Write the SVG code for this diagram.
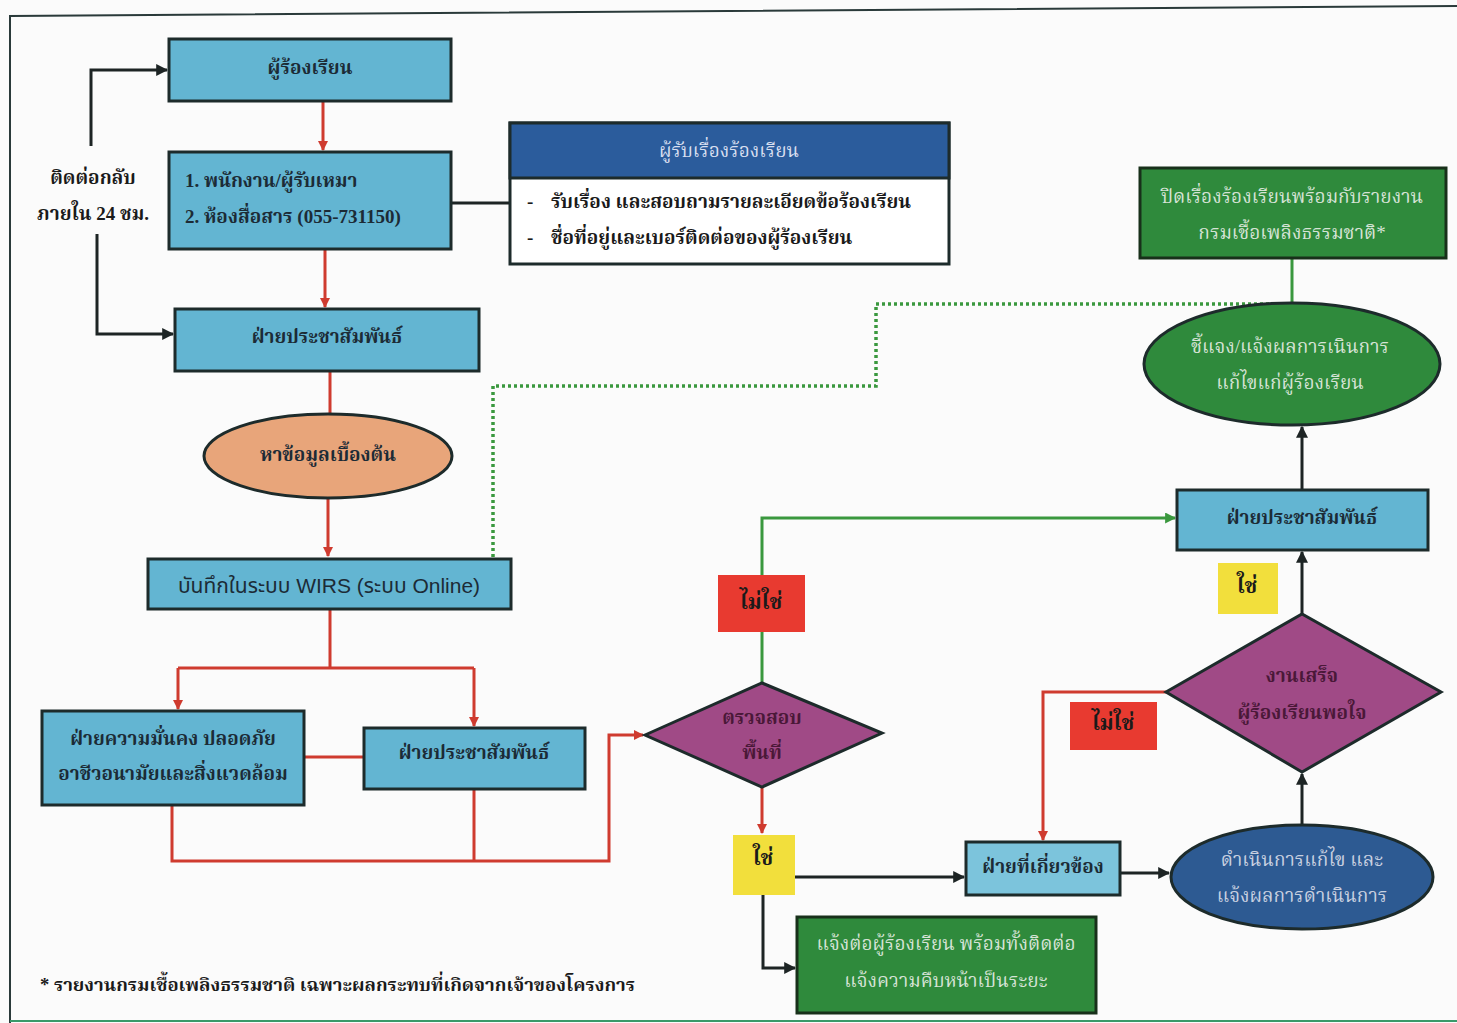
<svg xmlns="http://www.w3.org/2000/svg" width="1457" height="1023" viewBox="0 0 1457 1023">
<defs>
<marker id="ar" viewBox="0 0 10 10" refX="9" refY="5" markerWidth="10" markerHeight="10" markerUnits="userSpaceOnUse" orient="auto"><path d="M0,0 L10,5 L0,10 z" fill="#cf3b2f"/></marker>
<marker id="ak" viewBox="0 0 10 10" refX="9" refY="5" markerWidth="12" markerHeight="12" markerUnits="userSpaceOnUse" orient="auto"><path d="M0,0 L10,5 L0,10 z" fill="#1d2424"/></marker>
<marker id="ag" viewBox="0 0 10 10" refX="9" refY="5" markerWidth="11" markerHeight="11" markerUnits="userSpaceOnUse" orient="auto"><path d="M0,0 L10,5 L0,10 z" fill="#3a983e"/></marker>
</defs>
<style>
text{font-family:"Liberation Serif","Noto Serif Thai","Noto Sans Thai","Tlwg Typo","Garuda","Loma",serif;dominant-baseline:central;text-anchor:middle}
.bx{fill:#63b5d2;stroke:#1d2b2b;stroke-width:3}
.gb{fill:#2f8a3c;stroke:#18301a;stroke-width:3}
.dm{fill:#a04a86;stroke:#1d2b2b;stroke-width:3}
.t{font-size:19px;fill:#1c2b36;font-weight:bold}
.tw{font-size:19px;fill:#d6e3d6}
.td{font-size:19px;fill:#4a1838;font-weight:bold}
.lb{font-size:21px;font-weight:bold;fill:#1a1a1a}
.r{stroke:#cf3b2f;stroke-width:3;fill:none}
.k{stroke:#1d2424;stroke-width:3;fill:none}
.g{stroke:#3a983e;stroke-width:3;fill:none}
</style>
<rect width="1457" height="1023" fill="#fbfbfb"/>
<g id="frame" fill="none" stroke="#2a3a3a" stroke-width="2">
<path d="M1457,6 L10,16 L10,1023"/>
<path d="M10,1021 L1457,1021" stroke="#3a9a6a"/>
</g>
<g id="connectors">
<path class="r" d="M323,101 V150" marker-end="url(#ar)"/>
<path class="r" d="M325,249 V307" marker-end="url(#ar)"/>
<path class="k" d="M451,203 H510"/>
<path class="k" d="M91,146 V70 H167" marker-end="url(#ak)"/>
<path class="k" d="M97,234 V334 H173" marker-end="url(#ak)"/>
<path class="r" d="M330,371 V414"/>
<path class="r" d="M328,498 V556" marker-end="url(#ar)"/>
<path class="r" d="M330,609 V668"/>
<path class="r" d="M178,668 H474"/>
<path class="r" d="M178,668 V709" marker-end="url(#ar)"/>
<path class="r" d="M474,668 V726" marker-end="url(#ar)"/>
<path class="r" d="M304,757 H364"/>
<path class="r" d="M172,805 V861 H609 V735 H643" marker-end="url(#ar)"/>
<path class="r" d="M474,789 V861"/>
<path class="g" d="M762,683 V632"/>
<path class="g" d="M762,575 V518 H1175" marker-end="url(#ag)"/>
<path class="r" d="M762,787 V833" marker-end="url(#ar)"/>
<path class="k" d="M795,877 H964" marker-end="url(#ak)"/>
<path class="k" d="M763,895 V968 H795" marker-end="url(#ak)"/>
<path class="k" d="M1120,873 H1169" marker-end="url(#ak)"/>
<path class="k" d="M1302,825 V774" marker-end="url(#ak)"/>
<path class="r" d="M1166,692 H1043 V840" marker-end="url(#ar)"/>
<path class="k" d="M1302,614 V552" marker-end="url(#ak)"/>
<path class="k" d="M1302,490 V427" marker-end="url(#ak)"/>
<path class="g" d="M1292,303 V258"/>
<path d="M493,557 V386 H876 V304 H1290" fill="none" stroke="#3a983e" stroke-width="3.5" stroke-dasharray="3 3"/>
</g>
<g id="n_complainant"><rect class="bx" x="169" y="39" width="282" height="62"/><text class="t" x="310" y="67">ผู้ร้องเรียน</text></g>
<g id="n_channels"><rect class="bx" x="169" y="152" width="282" height="97"/><text class="t" x="185" y="180" style="text-anchor:start">1. พนักงาน/ผู้รับเหมา</text><text class="t" x="185" y="216" style="text-anchor:start">2. ห้องสื่อสาร (055-731150)</text></g>
<g id="n_callback"><text class="t" x="93" y="177" style="fill:#1a1a1a">ติดต่อกลับ</text><text class="t" x="93" y="213" style="fill:#1a1a1a">ภายใน 24 ชม.</text></g>
<g id="n_receiver"><rect x="510" y="123" width="439" height="141" fill="#ffffff" stroke="#1d2b2b" stroke-width="3"/><rect x="510" y="123" width="439" height="55" fill="#2b5c9c" stroke="#1d2b2b" stroke-width="3"/><text class="tw" x="729" y="150" style="fill:#d8dff0">ผู้รับเรื่องร้องเรียน</text><text class="t" x="527" y="201" style="text-anchor:start;fill:#1a1a1a">-</text><text class="t" x="551" y="201" style="text-anchor:start;fill:#1a1a1a">รับเรื่อง และสอบถามรายละเอียดข้อร้องเรียน</text><text class="t" x="527" y="237" style="text-anchor:start;fill:#1a1a1a">-</text><text class="t" x="551" y="237" style="text-anchor:start;fill:#1a1a1a">ชื่อที่อยู่และเบอร์ติดต่อของผู้ร้องเรียน</text></g>
<g id="n_pr1"><rect class="bx" x="175" y="309" width="304" height="62"/><text class="t" x="327" y="336">ฝ่ายประชาสัมพันธ์</text></g>
<g id="n_info"><ellipse cx="328" cy="456" rx="124" ry="42" fill="#e8a57a" stroke="#1d2b2b" stroke-width="3"/><text class="t" x="328" y="454">หาข้อมูลเบื้องต้น</text></g>
<g id="n_wirs"><rect class="bx" x="148" y="559" width="363" height="50"/><text class="t" x="329" y="585" style="font-weight:normal;font-size:21px;font-family:'Liberation Sans','Noto Sans Thai','Loma',sans-serif">บันทึกในระบบ WIRS (ระบบ Online)</text></g>
<g id="n_safety"><rect class="bx" x="42" y="711" width="262" height="94"/><text class="t" x="173" y="738">ฝ่ายความมั่นคง ปลอดภัย</text><text class="t" x="173" y="773">อาชีวอนามัยและสิ่งแวดล้อม</text></g>
<g id="n_pr2"><rect class="bx" x="364" y="728" width="221" height="61"/><text class="t" x="474" y="752">ฝ่ายประชาสัมพันธ์</text></g>
<g id="n_check"><path class="dm" d="M645,735 L762,683 L882,733 L762,787 Z"/><text class="td" x="762" y="717">ตรวจสอบ</text><text class="td" x="762" y="752">พื้นที่</text></g>
<g id="n_no1"><rect x="718" y="575" width="87" height="57" fill="#e83a30"/><text class="lb" x="761" y="602">ไม่ใช่</text></g>
<g id="n_yes1"><rect x="733" y="835" width="62" height="60" fill="#f2df3c"/><text class="lb" x="763" y="858">ใช่</text></g>
<g id="n_inform"><rect class="gb" x="797" y="917" width="299" height="96"/><text class="tw" x="946" y="943">แจ้งต่อผู้ร้องเรียน พร้อมทั้งติดต่อ</text><text class="tw" x="946" y="980">แจ้งความคืบหน้าเป็นระยะ</text></g>
<g id="n_related"><rect class="bx" x="966" y="842" width="154" height="53" style="fill:#7cc4dc"/><text class="t" x="1043" y="866">ฝ่ายที่เกี่ยวข้อง</text></g>
<g id="n_action"><ellipse cx="1302" cy="877" rx="131" ry="52" fill="#2d5a92" stroke="#1d2b2b" stroke-width="3"/><text class="tw" x="1302" y="859" style="fill:#c8d0e0">ดำเนินการแก้ไข และ</text><text class="tw" x="1302" y="895" style="fill:#c8d0e0">แจ้งผลการดำเนินการ</text></g>
<g id="n_done"><path class="dm" d="M1166,692 L1302,614 L1441,692 L1302,772 Z"/><text class="td" x="1302" y="675">งานเสร็จ</text><text class="td" x="1302" y="712">ผู้ร้องเรียนพอใจ</text></g>
<g id="n_no2"><rect x="1070" y="702" width="87" height="48" fill="#e83a30"/><text class="lb" x="1113" y="723">ไม่ใช่</text></g>
<g id="n_yes2"><rect x="1218" y="563" width="60" height="51" fill="#f2df3c"/><text class="lb" x="1247" y="586">ใช่</text></g>
<g id="n_pr3"><rect class="bx" x="1177" y="490" width="251" height="60"/><text class="t" x="1302" y="517">ฝ่ายประชาสัมพันธ์</text></g>
<g id="n_explain"><ellipse cx="1292" cy="364" rx="148" ry="61" fill="#2f8a3c" stroke="#1d2b2b" stroke-width="3"/><text class="tw" x="1290" y="346">ชี้แจง/แจ้งผลการเนินการ</text><text class="tw" x="1290" y="382">แก้ไขแก่ผู้ร้องเรียน</text></g>
<g id="n_close"><rect class="gb" x="1140" y="168" width="306" height="90"/><text class="tw" x="1292" y="196">ปิดเรื่องร้องเรียนพร้อมกับรายงาน</text><text class="tw" x="1292" y="232">กรมเชื้อเพลิงธรรมชาติ*</text></g>
<g id="footnote"><text class="t" x="40" y="985" style="text-anchor:start;fill:#1a1a1a;font-size:18.5px">* รายงานกรมเชื้อเพลิงธรรมชาติ เฉพาะผลกระทบที่เกิดจากเจ้าของโครงการ</text></g>
</svg>
